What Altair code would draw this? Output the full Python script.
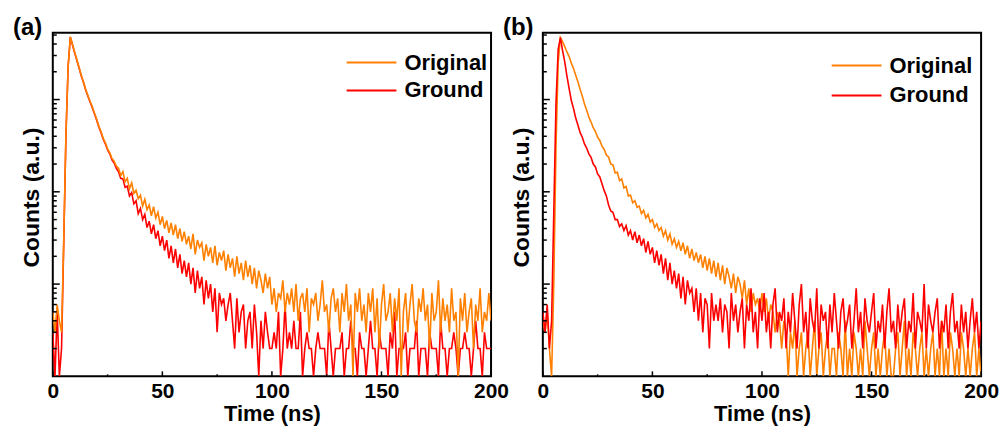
import altair as alt
import pandas as pd

# ---------------- data ----------------
T = list(range(0, 201))  # time grid, ns

A_ORIG = [
    5, 3, 6, 4, 3, 30, 420, 2300, 4800, 3950,
    3250, 2700, 2230, 1830, 1560, 1290, 1110, 960, 840, 715,
    615, 515, 450, 380, 340, 292, 266, 230, 215, 190,
    180, 150, 165, 128, 140, 108, 125, 96, 104, 84,
    92, 70, 83, 64, 72, 55, 69, 52, 60, 44,
    54, 40, 49, 36, 46, 34, 44, 31, 40, 29,
    37, 27, 33, 24, 35, 21, 30, 25, 28, 18,
    27, 20, 25, 17, 26, 16, 22, 18, 23, 14,
    21, 15, 19, 12, 20, 13, 17, 11, 18, 12,
    16, 10, 15, 9, 14, 11, 8, 13, 9, 12,
    6, 9, 5, 8, 7, 11, 5, 8, 6, 9,
    5, 10, 4, 7, 8, 5, 9, 3, 7, 6,
    8, 4, 6, 11, 5, 6, 3, 7, 9, 5,
    7, 3, 8, 5, 10, 4, 6, 1, 8, 5,
    9, 4, 6, 3, 8, 5, 9, 3, 7, 2,
    6, 10, 4, 5, 8, 3, 7, 4, 9, 1,
    5, 8, 3, 6, 10, 4, 3, 7, 5, 9,
    4, 6, 2, 8, 4, 5, 11, 3, 7, 4,
    6, 3, 9, 4, 5, 1, 7, 4, 8, 3,
    5, 7, 2, 6, 4, 9, 3, 5, 4, 8,
    4,
]

A_GROUND = [
    3, 1, 5, 1, 2, 28, 400, 2250, 4750, 3900,
    3200, 2650, 2200, 1800, 1530, 1270, 1090, 940, 820, 700,
    600, 505, 440, 372, 330, 285, 258, 222, 205, 180,
    165, 140, 138, 112, 115, 90, 98, 74, 80, 58,
    66, 50, 57, 41, 48, 35, 44, 31, 38, 26,
    33, 23, 30, 19, 26, 17, 24, 15, 21, 13,
    18, 12, 17, 10, 15, 8, 14, 9, 12, 6,
    11, 7, 10, 5, 9, 3, 8, 6, 7, 4,
    6, 8, 4, 2, 7, 3, 5, 6, 2, 4,
    5, 2, 6, 3, 1, 4, 2, 5, 3, 2,
    2, 3, 2, 5, 1, 2, 6, 2, 3, 2,
    4, 2, 2, 5, 1, 2, 3, 2, 2, 1,
    2, 3, 2, 2, 2, 1, 4, 2, 1, 2,
    2, 2, 3, 1, 2, 2, 4, 2, 2, 1,
    3, 2, 2, 1, 2, 4, 2, 2, 1, 3,
    2, 2, 2, 1, 3, 2, 5, 1, 2, 2,
    2, 3, 1, 2, 2, 2, 4, 1, 2, 2,
    2, 1, 3, 2, 2, 2, 1, 4, 2, 2,
    1, 2, 2, 3, 2, 1, 2, 2, 3, 2,
    2, 1, 2, 4, 2, 2, 1, 3, 2, 2,
    2,
]

B_ORIG = [
    4, 3, 5, 2, 1, 10, 300, 2500, 4700, 4250,
    3750, 3280, 2920, 2480, 2170, 1830, 1560, 1290, 1090, 895,
    765, 645, 570, 495, 450, 390, 360, 312, 288, 250,
    238, 200, 196, 160, 163, 132, 138, 110, 114, 90,
    92, 76, 80, 68, 70, 58, 63, 52, 57, 47,
    50, 41, 45, 38, 41, 33, 38, 30, 35, 27,
    31, 25, 29, 23, 28, 21, 26, 19, 24, 18,
    22, 17, 21, 15, 20, 14, 19, 13, 18, 12,
    17, 11, 16, 10, 15, 12, 9, 13, 8, 12,
    10, 7, 11, 6, 9, 5, 8, 6, 7, 5,
    8, 5, 7, 4, 6, 5, 3, 5, 4, 2,
    4, 3, 1, 3, 2, 4, 1, 2, 3, 1,
    2, 3, 1, 2, 4, 1, 2, 3, 1, 2,
    3, 1, 2, 2, 1, 3, 2, 1, 4, 1,
    2, 1, 3, 2, 1, 2, 1, 4, 2, 1,
    2, 3, 1, 2, 1, 2, 3, 1, 2, 1,
    1, 2, 3, 1, 2, 4, 1, 2, 1, 3,
    2, 1, 2, 3, 1, 2, 1, 2, 3, 1,
    2, 1, 4, 1, 2, 1, 3, 2, 1, 2,
    1, 3, 2, 1, 2, 1, 2, 3, 1, 2,
    1,
]

B_GROUND = [
    5, 3, 6, 2, 4, 60, 900, 3500, 4700, 3400,
    2560, 1790, 1310, 975, 800, 630, 530, 440, 390, 330,
    298, 258, 236, 200, 186, 156, 145, 122, 103, 90,
    72, 62, 60, 50, 50, 42, 45, 38, 43, 34,
    38, 30, 37, 28, 34, 26, 31, 22, 29, 21,
    25, 17, 23, 16, 21, 13, 19, 11, 17, 10,
    14, 9, 13, 7, 12, 6, 11, 8, 9, 5,
    9, 4, 8, 3, 7, 6, 2, 8, 4, 6,
    4, 7, 3, 6, 5, 2, 8, 4, 6, 3,
    5, 7, 2, 6, 4, 9, 3, 5, 2, 7,
    4, 8, 3, 5, 2, 6, 9, 3, 5, 4,
    7, 2, 5, 3, 8, 4, 2, 6, 10, 3,
    5, 2, 7, 4, 3, 9, 2, 6, 4, 5,
    2, 6, 3, 8, 4, 2, 5, 7, 3, 4,
    6, 2, 4, 9, 3, 5, 2, 7, 4, 3,
    5, 8, 2, 4, 3, 6, 2, 5, 9, 3,
    4, 2, 6, 3, 5, 7, 2, 4, 3, 8,
    2, 5, 4, 3, 10, 2, 6, 4, 3, 5,
    7, 2, 4, 3, 6, 2, 5, 8, 3, 4,
    2, 6, 3, 5, 2, 4, 7, 3, 5, 2,
    4,
]

SERIES = ["Original", "Ground"]
COLORS = ["#FF8000", "#FF0000"]

X_LABELS = [0, 50, 100, 150, 200]
X_MINOR = [25, 75, 125, 175]
Y_MAJOR = [10, 100, 1000]
Y_MINOR = [2, 3, 4, 5, 6, 7, 8, 9,
           20, 30, 40, 50, 60, 70, 80, 90,
           200, 300, 400, 500, 600, 700, 800, 900,
           2000, 3000, 4000, 5000]

# ---------------- style ----------------
FONT = "Liberation Sans"
W, H = 440, 345
X_DOMAIN = [0, 200]
Y_DOMAIN = [1, 5300]


def panel(orig, ground, label, top_series, leg_x, leg_y, row_pad):
    df = pd.DataFrame({
        "t": T + T,
        "counts": orig + ground,
        "series": ["Original"] * len(T) + ["Ground"] * len(T),
    })
    xs = alt.Scale(domain=X_DOMAIN, nice=False, zero=False)
    ys = alt.Scale(type="log", domain=Y_DOMAIN, nice=False)
    xaxis = alt.Axis(title="Time (ns)", values=X_LABELS, format="d",
                     labelFont=FONT, labelFontSize=21, labelFontWeight="bold",
                     labelColor="black", labelPadding=4, labelFlush=False,
                     ticks=False, tickSize=0, domain=False, grid=False,
                     titleFont=FONT, titleFontSize=22, titleFontWeight="bold",
                     titleColor="black", titlePadding=2)
    yaxis = alt.Axis(title="Counts (a.u.)", labels=False, ticks=False,
                     tickSize=0, domain=False, grid=False,
                     titleFont=FONT, titleFontSize=23, titleFontWeight="bold",
                     titleColor="black", titlePadding=9, titleY=165)
    x_enc = alt.X("t:Q", scale=xs, axis=xaxis)
    y_enc = alt.Y("counts:Q", scale=ys, axis=yaxis)
    color = alt.Color(
        "series:N",
        scale=alt.Scale(domain=SERIES, range=COLORS),
        legend=alt.Legend(orient="none", legendX=leg_x, legendY=leg_y,
                          title=None, symbolType="M-5,0H5", symbolSize=100,
                          symbolStrokeWidth=2, symbolFillColor="transparent",
                          labelFont=FONT,
                          labelFontSize=22, labelFontWeight="bold",
                          labelColor="black", labelOffset=22,
                          rowPadding=row_pad, padding=0),
    )
    base = alt.Chart(df).mark_line(strokeWidth=1.6, clip=True).encode(
        x=x_enc, y=y_enc, color=color)
    bottom_series = [s for s in SERIES if s != top_series][0]
    lines_bottom = base.transform_filter(alt.datum.series == bottom_series)
    lines_top = base.transform_filter(alt.datum.series == top_series)

    ymaj = alt.Chart(pd.DataFrame({"counts": Y_MAJOR})).mark_rule(
        color="black", strokeWidth=1.5).encode(
        y=y_enc, x=alt.value(0), x2=alt.value(7))
    ymin = alt.Chart(pd.DataFrame({"counts": Y_MINOR})).mark_rule(
        color="black", strokeWidth=1.5).encode(
        y=y_enc, x=alt.value(0), x2=alt.value(4))
    xmaj = alt.Chart(pd.DataFrame({"t": X_LABELS})).mark_rule(
        color="black", strokeWidth=1.5).encode(
        x=x_enc, y=alt.value(H), y2=alt.value(H - 5))
    xmin = alt.Chart(pd.DataFrame({"t": X_MINOR})).mark_rule(
        color="black", strokeWidth=1.5).encode(
        x=x_enc, y=alt.value(H), y2=alt.value(H - 2))

    return alt.layer(lines_bottom, lines_top, ymaj, ymin, xmaj, xmin).properties(
        width=W, height=H,
        title=alt.TitleParams(label, anchor="start", frame="group", dx=-40,
                              dy=26, offset=0, baseline="alphabetic",
                              font=FONT, fontSize=24, fontWeight="bold",
                              color="black"),
    )


pa = panel(A_ORIG, A_GROUND, "(a)", "Original", 309, 19, 6)
pb = panel(B_ORIG, B_GROUND, "(b)", "Ground", 304, 22, 8)

chart = alt.hconcat(pa, pb, spacing=52, bounds="flush").resolve_scale(
    color="independent").properties(
    padding={"left": 12, "top": 14, "right": 5, "bottom": 0},
    background="white",
).configure_view(stroke="black", strokeWidth=2)

chart.save("out.html", embed_options={"renderer": "svg", "actions": False})
